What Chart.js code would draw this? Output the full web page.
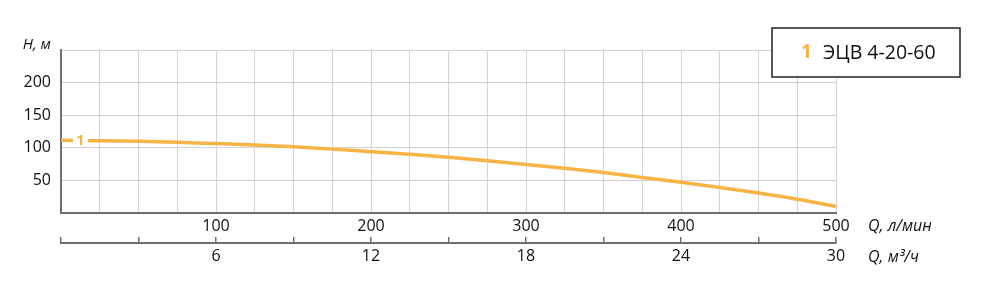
<!DOCTYPE html>
<html>
<head>
<meta charset="utf-8">
<script src="https://cdn.jsdelivr.net/npm/chart.js@4.4.1/dist/chart.umd.min.js"></script>
<style>
  html, body { margin: 0; padding: 0; background: #fff; }
  #wrap { width: 1000px; height: 293px; position: relative; }
</style>
</head>
<body>
<div id="wrap"><canvas id="chart"></canvas></div>
<script>
// pump curve, flow in l/min, head in m
var flowLpm = [0, 25, 50, 75, 100, 125, 150, 175, 200, 225, 250, 275, 300, 325, 350, 375, 400, 425, 450, 475, 500];
var headM = [111, 110.5, 109.5, 108, 106, 104, 101, 97.5, 93.5, 89.5, 85, 79.5, 74, 68, 61.5, 54, 46.5, 38.5, 30, 20.5, 9.5];
var seriesName = 'ЭЦВ 4-20-60';
var seriesNo = '1';

var ORANGE = '#f6b444';
var GRID = '#d4d4d4';
var AXIS = '#707070';
var FONT = '"Open Sans", "Noto Sans", sans-serif';

// titles, curve number on the line and the legend box
var overlay = {
  id: 'overlay',
  afterDraw: function(chart) {
    var ctx = chart.ctx;
    var x = chart.scales.x, y = chart.scales.y;
    ctx.save();

    // number on the curve
    var px = x.getPixelForValue(12.5);
    var py = y.getPixelForValue(headM[0]);
    ctx.fillStyle = '#fff';
    ctx.fillRect(px - 7.5, py - 4, 15, 8);
    ctx.fillStyle = ORANGE;
    ctx.font = 'bold 15px ' + FONT;
    ctx.textAlign = 'center';
    ctx.textBaseline = 'middle';
    ctx.fillText(seriesNo, px, py + 0.5);

    // axis titles
    ctx.fillStyle = '#111';
    ctx.font = 'italic 15px ' + FONT;
    ctx.textAlign = 'right';
    ctx.textBaseline = 'alphabetic';
    ctx.fillText('H, м', y.right - 10, chart.chartArea.top - 1);
    ctx.font = 'italic 16px ' + FONT;
    ctx.textAlign = 'left';
    ctx.textBaseline = 'middle';
    ctx.fillText('Q, л/мин', chart.chartArea.right + 32, 226);
    ctx.fillText('Q, м³/ч', chart.chartArea.right + 32, 257);

    // legend
    ctx.fillStyle = '#fff';
    ctx.fillRect(772, 28, 188, 49);
    ctx.strokeStyle = '#222';
    ctx.lineWidth = 1.5;
    ctx.strokeRect(772, 28, 188, 49);
    ctx.font = 'bold 19px ' + FONT;
    ctx.fillStyle = ORANGE;
    ctx.textAlign = 'left';
    ctx.fillText(seriesNo, 801, 53);
    ctx.font = '19.5px ' + FONT;
    ctx.fillStyle = '#111';
    ctx.fillText(seriesName, 823, 53);
    ctx.restore();
  }
};

var points = flowLpm.map(function(q, i) {
  return { x: q, y: headM[i] };
});

new Chart(document.getElementById('chart'), {
  type: 'line',
  data: {
    datasets: [{
      label: seriesName,
      data: points,
      borderColor: ORANGE,
      borderWidth: 3.5,
      pointRadius: 0,
      cubicInterpolationMode: 'monotone',
      fill: false
    }]
  },
  options: {
    responsive: true,
    maintainAspectRatio: false,
    animation: false,
    events: [],
    layout: { padding: { top: 50, right: 164, left: 0, bottom: 0 } },
    plugins: { legend: { display: false }, tooltip: { enabled: false } },
    scales: {
      x: {
        type: 'linear',
        position: 'bottom',
        min: 0,
        max: 500,
        afterFit: function(s) { s.height = 30.5; },
        grid: { color: GRID, lineWidth: 1, drawTicks: false },
        border: { color: AXIS, width: 2 },
        ticks: {
          stepSize: 25,
          autoSkip: false,
          maxRotation: 0,
          padding: 4,
          color: '#111',
          font: { family: FONT, size: 16 },
          callback: function(v) { return (v % 100 === 0 && v > 0) ? String(v) : ''; }
        }
      },
      x2: {
        type: 'linear',
        position: 'bottom',
        min: 0,
        max: 30,
        afterFit: function(s) { s.height = 50; },
        grid: { drawOnChartArea: false, drawTicks: true, tickLength: -6, color: AXIS, lineWidth: 1.5 },
        border: { color: AXIS, width: 2 },
        ticks: {
          stepSize: 3,
          autoSkip: false,
          maxRotation: 0,
          padding: 10,
          color: '#111',
          font: { family: FONT, size: 16 },
          callback: function(v) { return (v % 6 === 0 && v > 0) ? String(v) : ''; }
        }
      },
      y: {
        min: 0,
        max: 250,
        afterFit: function(s) { s.width = 61; },
        grid: { color: GRID, lineWidth: 1, drawTicks: false },
        border: { color: AXIS, width: 2 },
        ticks: {
          stepSize: 50,
          padding: 10,
          color: '#111',
          font: { family: FONT, size: 16 },
          callback: function(v) { return (v > 0 && v < 250) ? String(v) : ''; }
        }
      }
    }
  },
  plugins: [overlay]
});
</script>
</body>
</html>
